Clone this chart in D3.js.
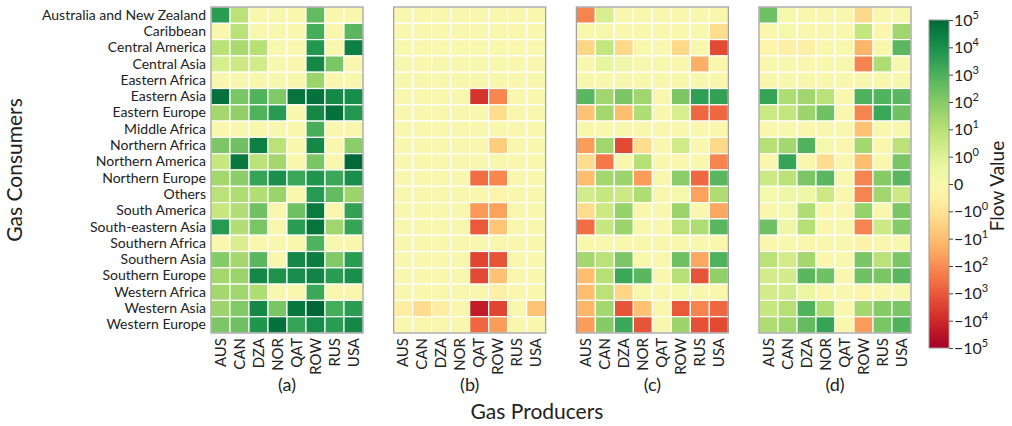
<!DOCTYPE html>
<html>
<head>
<meta charset="utf-8">
<script src="https://cdn.jsdelivr.net/npm/d3@7"></script>
<style>
  body { margin: 0; background: #fff; }
  text { font-family: Lato, "Open Sans", sans-serif; fill: #222; }
</style>
</head>
<body>
<svg id="chart" width="1012" height="426"></svg>
<script>
var consumers = ["Australia and New Zealand", "Caribbean", "Central America", "Central Asia",
  "Eastern Africa", "Eastern Asia", "Eastern Europe", "Middle Africa", "Northern Africa",
  "Northern America", "Northern Europe", "Others", "South America", "South-eastern Asia",
  "Southern Africa", "Southern Asia", "Southern Europe", "Western Africa", "Western Asia",
  "Western Europe"]
var producers = ["AUS", "CAN", "DZA", "NOR", "QAT", "ROW", "RUS", "USA"]
var panelLetters = ["(a)", "(b)", "(c)", "(d)"]

// flows, one row per consumer, columns in producer order
var flowsA = [
  [4000, 8, 0, 0, 0, 400, 0, 0],
  [0, 8, 0, 0, 0, 1300, 0, 600],
  [8, 20, 10, 0, 0, 6000, 0, 25000],
  [1.6, 3, 2, 0, 0, 15000, 160, 0],
  [0, 0, 0, 0, 0, 40, 0, 0],
  [60000, 160, 800, 120, 50000, 60000, 15000, 12000],
  [25, 60, 900, 5000, 0, 15000, 60000, 6000],
  [0, 0, 0, 0, 0, 1300, 0, 0],
  [150, 250, 25000, 8, 0, 15000, 0, 80],
  [4, 40000, 8, 25, 0, 160, 0, 90000],
  [25, 80, 2500, 10000, 2000, 7000, 2000, 10000],
  [8, 15, 12, 40, 0, 5000, 400, 35],
  [4, 12, 250, 0, 250, 35000, 0, 3000],
  [5000, 12, 160, 0, 4000, 50000, 30, 2500],
  [0, 1.5, 0, 0, 0, 900, 0, 0],
  [100, 25, 600, 0, 15000, 30000, 120, 4000],
  [25, 40, 15000, 8000, 12000, 20000, 4000, 10000],
  [25, 30, 15, 0, 0, 2000, 0, 0],
  [35, 120, 15000, 160, 40000, 100000, 1300, 4000],
  [150, 250, 7000, 60000, 2500, 12000, 4000, 15000]
]
var flowsB = [
  [0, 0, 0, 0, 0, 0, 0, 0],
  [0, 0, 0, 0, 0, 0, 0, 0],
  [0, 0, 0, 0, 0, 0, 0, 0],
  [0, 0, 0, 0, 0, 0, 0, 0],
  [0, 0, 0, 0, 0, 0, 0, 0],
  [0, 0, 0, 0, -6000, -130, 0, 0],
  [0, 0, 0, 0, 0, -1.6, 0, 0],
  [0, 0, 0, 0, 0, 0, 0, 0],
  [0, 0, 0, 0, 0, -4, 0, 0],
  [0, 0, 0, 0, 0, 0, 0, 0],
  [0, 0, 0, 0, -400, -130, 0, 0],
  [0, 0, 0, 0, 0, -0.3, 0, 0],
  [0, 0, 0, 0, -60, -40, 0, 0],
  [0, 0, 0, 0, -1000, -6, 0, 0],
  [0, 0, 0, 0, 0, 0, 0, 0],
  [0, 0, 0, 0, -2500, -1200, 0, 0],
  [0, 0, 0, 0, -2000, -8, 0, 0],
  [0, 0, 0, 0, 0, -0.5, 0, 0],
  [-0.6, -1.5, -0.6, 0, -20000, -2500, 0, -7],
  [0, 0, 0, 0, -500, -50, 0, 0]
]
var flowsC = [
  [-150, 1.5, 0, 0, 0, 0, 0, 0],
  [0, 0.2, 0, 0, 0, 0, 0, -1.5],
  [-2.5, 5, -2, 0, 0, -2, 0, -2000],
  [0, 0.7, 0.4, 0, 0, 0, -20, 0],
  [0, 0, 0, 0, 0, 0, 0, 0],
  [600, 30, 160, 30, 0, 150, 3500, 3000],
  [-8, 25, -10, 15, 0, 1.5, -500, -500],
  [0, 0, 0, 0, 0, 0, 0, 0],
  [-50, 30, -2000, -1.5, 0, 2.5, 0, -2],
  [-1.5, -250, 0, 10, 0, 0, 0, -150],
  [-10, 25, 35, -50, 0, 80, -500, 600],
  [2, 4, 3, 15, 0, 0.2, -40, 15],
  [-1.5, 3, 50, 0, 0, 40, 0, -30],
  [-400, 4, 40, 0, 0, 8, 15, 600],
  [0, 0, 0, 0, 0, 0, 0, 0],
  [25, 8, 150, 0, 0, 250, -30, 900],
  [-10, 10, 2000, 600, 0, 10, -1200, 60],
  [-10, 8, -2.5, 0, 0, 0.3, 0, 0],
  [-15, 25, -1200, -8, 0, -1000, -150, -500],
  [-50, 100, 2000, -1200, 0, 35, -1500, -2000]
]
var flowsD = [
  [250, 0.3, 0, 0, 0, -2, 0, 0],
  [0, 0.3, 0, 0, 0, 5, 0, 30],
  [-0.3, -0.5, -0.5, 0, 0, -15, 0, 600],
  [0, 0, 0, 0, 0, -150, 15, 0],
  [0, 0, 0, 0, 0, 0, 0, 0],
  [2500, 15, 30, 8, 0, 1000, 800, 600],
  [3, 5, 35, 250, 0, -150, 2000, 250],
  [0, 0, 0, 0, 0, -8, 0, 0],
  [10, 25, 800, 0.3, 0, 25, 0, 8],
  [0, 2500, 0, -1.5, 0, -10, 0, 160],
  [3, 8, 150, 600, 0, -150, 100, 600],
  [0.3, 0.5, 0.5, 3, 0, -150, 30, 3],
  [0, 0.3, 15, 0, 0, 50, 0, 160],
  [250, 0.5, 10, 0, 0, -150, 3, 100],
  [0, 0, 0, 0, 0, -0.4, 0, 0],
  [8, 2, 25, 0, 0, 160, 8, 160],
  [2, 2, 600, 250, 0, 250, 160, 600],
  [2, 2, 0.6, 0, 0, -0.3, 0, 0],
  [4, 10, 800, 15, 0, 25, 100, 160],
  [15, 30, 400, 2500, 0, -50, 160, 800]
]
var panels = [flowsA, flowsB, flowsC, flowsD]
var colorTicks = d3.range(-6, 7)  // in symlog units: 0, +-10^0 ... +-10^5

var svg = d3.select('#chart')

// matplotlib-like symlog, linthresh 1
function symlog(v) {
  var a = Math.abs(v)
  return Math.sign(v) * (a <= 1 ? a : 1 + Math.log10(a))
}
var color = d3.scaleSequential(d3.interpolateRdYlGn).domain([-6, 6])

var plotTop = 7, plotBottom = 333, panelW = 152
var y = d3.scaleBand().domain(consumers).range([plotTop, plotBottom])
var panelX = d3.scaleLinear().domain([0, 3]).range([211, 759])

panels.forEach(function (rows, i) {
  var x0 = panelX(i)
  var x = d3.scaleBand().domain(producers).range([x0, x0 + panelW])
  var g = svg.append('g')

  rows.forEach(function (row, r) {
    g.selectAll(null)
      .data(row)
      .enter()
      .append('rect')
      .attr('x', function (d, c) { return x(producers[c]) })
      .attr('y', y(consumers[r]))
      .attr('width', x.bandwidth())
      .attr('height', y.bandwidth())
      .attr('fill', function (d) { return color(symlog(d)) })
      .attr('stroke', '#fff')
      .attr('stroke-width', 1.2)
  })

  g.append('rect')
    .attr('x', x0).attr('y', plotTop)
    .attr('width', panelW).attr('height', plotBottom - plotTop)
    .attr('fill', 'none').attr('stroke', '#9a9a9a').attr('stroke-width', 1.2)

  var xAxis = g.append('g')
    .attr('transform', 'translate(0,' + plotBottom + ')')
    .call(d3.axisBottom(x).tickSize(0))
  xAxis.select('.domain').remove()
  xAxis.selectAll('text')
    .attr('transform', 'rotate(-90)')
    .attr('text-anchor', 'end')
    .attr('x', -5).attr('y', 0).attr('dy', '0.35em')
    .style('font-size', '15px').style('font-family', 'Lato, sans-serif').attr('fill', '#222')

  g.append('text')
    .attr('x', x0 + panelW / 2).attr('y', 391)
    .attr('text-anchor', 'middle')
    .style('font-size', '18px')
    .text(panelLetters[i])

  if (i == 0) {
    var yAxis = g.append('g')
      .attr('transform', 'translate(' + x0 + ',0)')
      .call(d3.axisLeft(y).tickSize(0).tickPadding(5))
    yAxis.select('.domain').remove()
    yAxis.selectAll('text')
      .style('font-size', '14px').style('font-family', 'Lato, sans-serif').attr('fill', '#222')
  }
})

svg.append('text')
  .attr('transform', 'translate(22,170) rotate(-90)')
  .attr('text-anchor', 'middle')
  .style('font-size', '21px')
  .text('Gas Consumers')

svg.append('text')
  .attr('x', 537).attr('y', 419)
  .attr('text-anchor', 'middle')
  .style('font-size', '21px')
  .text('Gas Producers')

// colorbar
var cbX = 929, cbW = 20, cbTop = 20, cbBottom = 348
var cy = d3.scaleLinear().domain([-6, 6]).range([cbBottom, cbTop])
var grad = svg.append('defs').append('linearGradient')
  .attr('id', 'cbgrad').attr('x1', 0).attr('y1', 1).attr('x2', 0).attr('y2', 0)
d3.range(0, 1.0001, 0.05).forEach(function (p) {
  grad.append('stop').attr('offset', p).attr('stop-color', d3.interpolateRdYlGn(p))
})
svg.append('rect')
  .attr('x', cbX).attr('y', cbTop).attr('width', cbW).attr('height', cbBottom - cbTop)
  .attr('fill', 'url(#cbgrad)').attr('stroke', '#9a9a9a').attr('stroke-width', 1)

var cbAxis = svg.append('g')
  .attr('transform', 'translate(' + (cbX + cbW) + ',0)')
  .call(d3.axisRight(cy).tickValues(colorTicks).tickSize(4).tickFormat(''))
cbAxis.select('.domain').remove()
cbAxis.selectAll('line').attr('stroke', '#444')

var tickText = svg.append('g').selectAll('text')
  .data(colorTicks)
  .enter()
  .append('text')
  .attr('x', cbX + cbW + 5)
  .attr('y', function (d) { return cy(d) + 6 })
  .style('font-size', '16px')
tickText.each(function (d) {
  var t = d3.select(this)
  if (d == 0) { t.text('0'); return }
  t.append('tspan').text((d < 0 ? '\u2212' : '') + '10')
  t.append('tspan').attr('dy', -7).style('font-size', '11px').text(Math.abs(d) - 1)
})

svg.append('text')
  .attr('transform', 'translate(1004,186) rotate(-90)')
  .attr('text-anchor', 'middle')
  .style('font-size', '19px')
  .text('Flow Value')
</script>
</body>
</html>
